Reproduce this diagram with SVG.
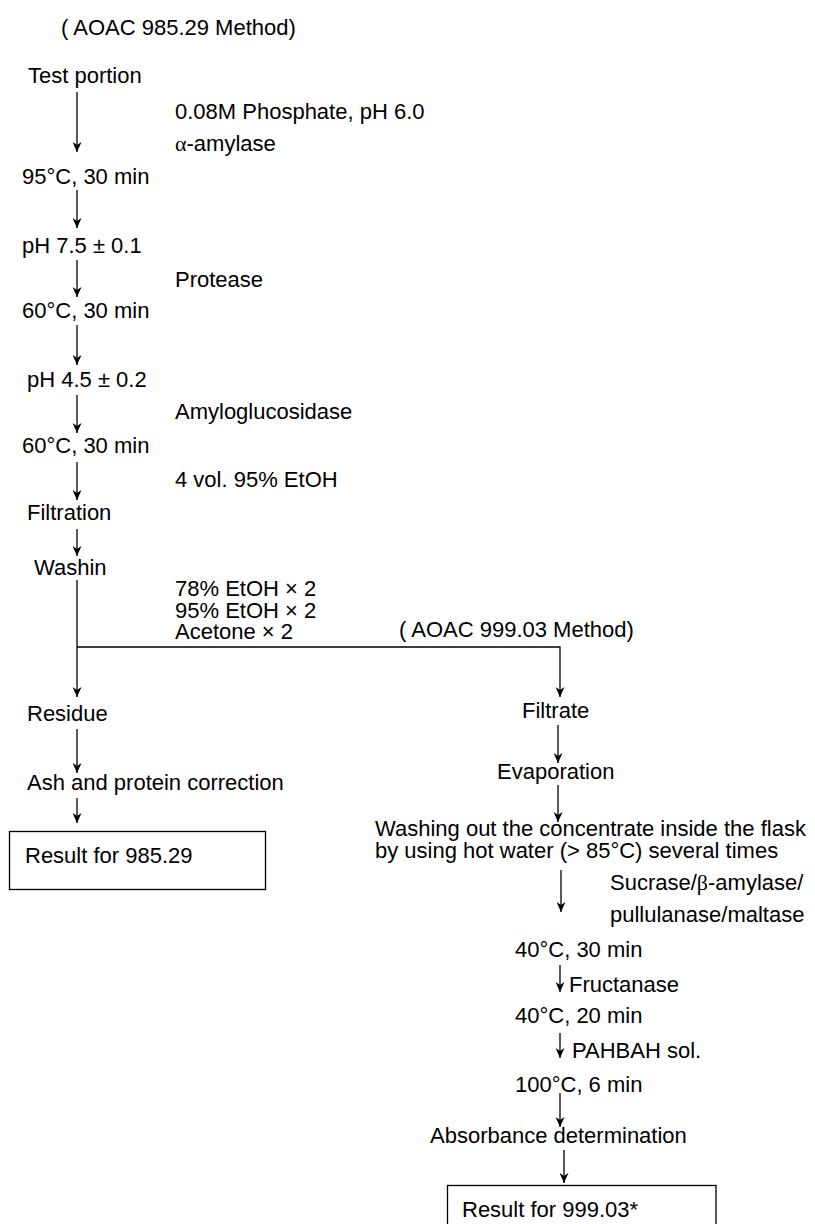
<svg xmlns="http://www.w3.org/2000/svg" width="815" height="1224" viewBox="0 0 815 1224">
<defs>
<style>
text{font-family:"Liberation Sans",Arial,Helvetica,sans-serif;font-size:22px;fill:#000}
.g{font-family:"Liberation Serif","Times New Roman",serif}
.c{fill:none;stroke:#000;stroke-width:1.3}
.box{fill:#fff;stroke:#000;stroke-width:1.3}
</style>
<marker id="ah" viewBox="0 0 10 9" refX="10" refY="4.5" markerWidth="10" markerHeight="9" markerUnits="userSpaceOnUse" orient="auto">
<path d="M0,0 L10,4.5 L0,9 L3,4.5 z" fill="#000"/>
</marker>
</defs>
<rect width="815" height="1224" fill="#fff"/>
<g id="connectors">
<line class="c" x1="77" y1="92" x2="77" y2="152" marker-end="url(#ah)"/>
<line class="c" x1="77" y1="190" x2="77" y2="228" marker-end="url(#ah)"/>
<line class="c" x1="77" y1="260" x2="77" y2="297" marker-end="url(#ah)"/>
<line class="c" x1="77" y1="325" x2="77" y2="365" marker-end="url(#ah)"/>
<line class="c" x1="77" y1="395" x2="77" y2="433" marker-end="url(#ah)"/>
<line class="c" x1="77" y1="462" x2="77" y2="500" marker-end="url(#ah)"/>
<line class="c" x1="77" y1="529" x2="77" y2="556" marker-end="url(#ah)"/>
<line class="c" x1="77" y1="580" x2="77" y2="697" marker-end="url(#ah)"/>
<path class="c" d="M77,647 H560 V697" marker-end="url(#ah)"/>
<line class="c" x1="77" y1="729" x2="77" y2="773" marker-end="url(#ah)"/>
<line class="c" x1="77" y1="798" x2="77" y2="823" marker-end="url(#ah)"/>
<line class="c" x1="558" y1="725" x2="558" y2="763" marker-end="url(#ah)"/>
<line class="c" x1="558" y1="785" x2="558" y2="822" marker-end="url(#ah)"/>
<line class="c" x1="561" y1="870" x2="561" y2="912" marker-end="url(#ah)"/>
<line class="c" x1="560" y1="965" x2="560" y2="992" marker-end="url(#ah)"/>
<line class="c" x1="560" y1="1033" x2="560" y2="1058" marker-end="url(#ah)"/>
<line class="c" x1="560" y1="1093" x2="560" y2="1127" marker-end="url(#ah)"/>
<line class="c" x1="564" y1="1150" x2="564" y2="1183" marker-end="url(#ah)"/>
</g>
<g id="title-985"><text x="61" y="35">( AOAC 985.29 Method)</text></g>
<g id="test-portion"><text x="28" y="83">Test portion</text></g>
<g id="reagent-phosphate"><text x="175" y="119">0.08M Phosphate, pH 6.0</text><text x="175" y="151"><tspan class="g">α</tspan>-amylase</text></g>
<g id="step-95c"><text x="22" y="184">95°C, 30 min</text></g>
<g id="step-ph75"><text x="22" y="253">pH 7.5 ± 0.1</text></g>
<g id="reagent-protease"><text x="175" y="287">Protease</text></g>
<g id="step-60c-a"><text x="22" y="318">60°C, 30 min</text></g>
<g id="step-ph45"><text x="27" y="387">pH 4.5 ± 0.2</text></g>
<g id="reagent-amyloglucosidase"><text x="175" y="419">Amyloglucosidase</text></g>
<g id="step-60c-b"><text x="22" y="453">60°C, 30 min</text></g>
<g id="reagent-etoh"><text x="175" y="487">4 vol. 95% EtOH</text></g>
<g id="filtration"><text x="27" y="520">Filtration</text></g>
<g id="washin"><text x="34" y="575">Washin</text></g>
<g id="wash-reagents"><text x="175" y="596">78% EtOH × 2</text><text x="175" y="618">95% EtOH × 2</text><text x="175" y="639">Acetone × 2</text></g>
<g id="title-999"><text x="399" y="637">( AOAC 999.03 Method)</text></g>
<g id="residue"><text x="27" y="721">Residue</text></g>
<g id="ash-protein"><text x="27" y="790">Ash and protein correction</text></g>
<g id="result-985"><rect class="box" x="9.5" y="831.5" width="256" height="58"/><text x="25" y="863">Result for 985.29</text></g>
<g id="filtrate"><text x="522" y="718">Filtrate</text></g>
<g id="evaporation"><text x="497" y="779">Evaporation</text></g>
<g id="washing-out"><text x="375" y="836">Washing out the concentrate inside the flask</text><text x="375" y="858">by using hot water (&gt; 85°C) several times</text></g>
<g id="reagent-sucrase"><text x="610" y="890">Sucrase/<tspan class="g">β</tspan>-amylase/</text><text x="610" y="922">pullulanase/maltase</text></g>
<g id="step-40c-30"><text x="515" y="957">40°C, 30 min</text></g>
<g id="reagent-fructanase"><text x="569" y="992">Fructanase</text></g>
<g id="step-40c-20"><text x="515" y="1023">40°C, 20 min</text></g>
<g id="reagent-pahbah"><text x="572" y="1058">PAHBAH sol.</text></g>
<g id="step-100c"><text x="515" y="1092">100°C, 6 min</text></g>
<g id="absorbance"><text x="430" y="1143">Absorbance determination</text></g>
<g id="result-999"><rect class="box" x="447.5" y="1185.5" width="268.5" height="60"/><text x="462" y="1217">Result for 999.03*</text></g>
</svg>
